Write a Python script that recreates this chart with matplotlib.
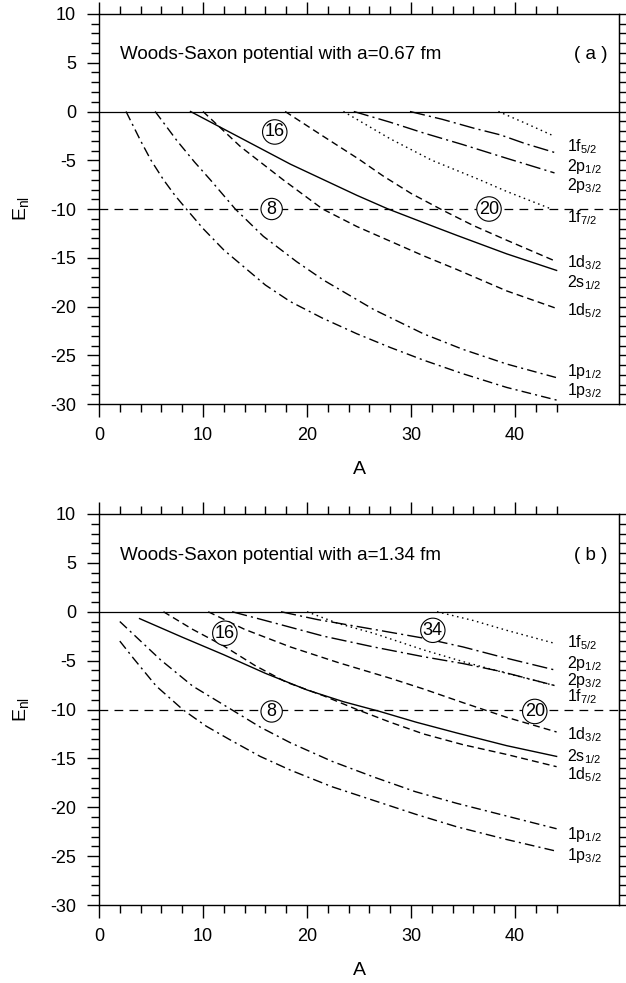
import matplotlib
matplotlib.use("Agg")
import matplotlib.pyplot as plt
from matplotlib.ticker import MultipleLocator, FixedLocator

plt.rcParams['font.family'] = ['Liberation Sans', 'DejaVu Sans']
plt.rcParams['mathtext.fontset'] = 'custom'
plt.rcParams['mathtext.rm'] = 'Liberation Sans'
plt.rcParams['mathtext.it'] = 'Liberation Sans'
plt.rcParams['mathtext.default'] = 'regular'
plt.rcParams['axes.unicode_minus'] = False

# ---------------- data: panel (a), a = 0.67 fm ----------------
a_1p32_A = [2.6, 4.0, 5.0, 6.2, 7.3, 8.4, 10.0, 12.0, 14.0, 16.0, 18.4, 21.5, 24.8, 28.0, 31.2, 35.0, 39.2, 44.0]
a_1p32_E = [0.0, -3.0, -5.0, -7.0, -8.6, -10.0, -12.0, -14.2, -16.0, -17.8, -19.5, -21.2, -22.8, -24.2, -25.5, -26.9, -28.3, -29.6]
a_1p12_A = [5.4, 7.5, 9.2, 10.7, 13.1, 15.8, 19.0, 21.6, 26.4, 31.2, 35.0, 39.2, 44.0]
a_1p12_E = [0.0, -3.0, -5.2, -7.0, -10.0, -12.8, -15.4, -17.3, -20.3, -22.8, -24.4, -25.9, -27.3]
a_1d52_A = [10.0, 13.6, 17.7, 21.5, 24.8, 28.0, 31.2, 34.4, 39.2, 44.0]
a_1d52_E = [0.0, -3.6, -7.0, -10.0, -11.8, -13.3, -14.8, -16.2, -18.4, -20.2]
a_2s12_A = [8.8, 12.0, 15.2, 18.4, 21.6, 24.8, 27.8, 31.2, 34.4, 39.2, 44.0]
a_2s12_E = [0.0, -1.8, -3.6, -5.4, -7.0, -8.6, -10.0, -11.4, -12.7, -14.6, -16.3]
a_1d32_A = [17.9, 21.5, 25.0, 27.3, 30.0, 33.0, 36.0, 39.2, 44.0]
a_1d32_E = [0.0, -2.5, -4.9, -6.6, -8.4, -10.1, -11.7, -13.2, -15.4]
a_1f72_A = [23.5, 28.0, 32.0, 36.6, 39.2, 43.5]
a_1f72_E = [0.0, -2.8, -5.0, -7.0, -8.2, -10.0]
a_2p32_A = [24.5, 28.0, 31.2, 35.0, 39.2, 43.8]
a_2p32_E = [0.0, -1.1, -2.2, -3.4, -4.8, -6.3]
a_2p12_A = [29.9, 33.0, 36.0, 38.6, 41.0, 43.8]
a_2p12_E = [0.0, -0.8, -1.7, -2.4, -3.3, -4.2]
a_1f52_A = [38.4, 41.0, 43.5]
a_1f52_E = [0.0, -1.2, -2.4]

# ---------------- data: panel (b), a = 1.34 fm ----------------
b_1p32_A = [2.0, 3.3, 5.5, 8.1, 10.3, 12.6, 15.5, 18.4, 22.4, 26.4, 30.4, 34.4, 39.2, 44.0]
b_1p32_E = [-3.0, -4.75, -7.6, -10.05, -11.7, -13.1, -14.8, -16.2, -17.9, -19.3, -20.7, -22.0, -23.3, -24.5]
b_1p12_A = [2.0, 4.0, 5.9, 9.0, 12.8, 15.5, 18.4, 22.4, 26.4, 30.4, 34.4, 39.2, 44.0]
b_1p12_E = [-1.0, -3.0, -4.9, -7.6, -10.05, -11.8, -13.4, -15.3, -16.9, -18.4, -19.6, -20.9, -22.2]
b_2s12_A = [3.9, 8.0, 12.0, 16.0, 20.0, 23.5, 27.0, 30.5, 34.4, 39.2, 44.0]
b_2s12_E = [-0.7, -2.6, -4.4, -6.3, -8.0, -9.2, -10.2, -11.3, -12.4, -13.7, -14.8]
b_1d52_A = [6.2, 9.0, 12.0, 15.0, 18.0, 21.6, 24.8, 28.0, 31.2, 35.0, 39.2, 44.0]
b_1d52_E = [0.0, -1.8, -3.5, -5.5, -7.2, -8.6, -10.0, -11.3, -12.5, -13.6, -14.6, -15.85]
b_1d32_A = [10.5, 14.0, 18.4, 23.0, 28.0, 31.2, 35.0, 39.2, 44.0]
b_1d32_E = [0.0, -1.8, -3.6, -5.2, -6.8, -7.9, -9.3, -10.8, -12.3]
b_2p32_A = [12.8, 16.0, 21.6, 26.4, 31.2, 35.0, 38.6, 44.0]
b_2p32_E = [0.0, -0.9, -2.5, -3.6, -4.6, -5.3, -6.1, -7.6]
b_2p12_A = [17.5, 21.0, 24.8, 28.0, 31.2, 35.0, 38.6, 44.0]
b_2p12_E = [0.0, -0.8, -1.5, -2.1, -2.7, -3.6, -4.6, -6.0]
b_1f72_A = [20.0, 23.0, 26.4, 31.2, 35.0, 39.2, 44.0]
b_1f72_E = [0.0, -1.2, -2.2, -3.9, -5.1, -6.3, -7.6]
b_1f52_A = [32.5, 36.0, 39.2, 43.7]
b_1f52_E = [0.0, -0.9, -1.9, -3.2]

# level labels (text, energy position)
level_names = ['1f$_{5/2}$', '2p$_{1/2}$', '2p$_{3/2}$', '1f$_{7/2}$', '1d$_{3/2}$',
               '2s$_{1/2}$', '1d$_{5/2}$', '1p$_{1/2}$', '1p$_{3/2}$']
a_label_E = [-3.6, -5.66, -7.54, -10.9, -15.5, -17.6, -20.4, -26.7, -28.6]
b_label_E = [-3.2, -5.25, -7.0, -8.7, -12.6, -14.8, -16.7, -22.8, -24.9]

# magic numbers (text, A, E)
a_magic = [('16', 16.9, -2.1), ('8', 16.6, -10.0), ('20', 37.5, -10.0)]
b_magic = [('16', 12.1, -2.2), ('34', 32.1, -1.9), ('8', 16.6, -10.2), ('20', 41.9, -10.2)]

titles = ['Woods-Saxon potential with a=0.67 fm', 'Woods-Saxon potential with a=1.34 fm']
tags = ['( a )', '( b )']

# ---------------- styles ----------------
ST_1p = (0, (7, 3, 1.5, 3))
ST_2p = (0, (11, 3, 1.5, 3))
ST_1d = (0, (5, 3))
ST_1f = (0, (1.1, 2.6))
ST_2s = '-'
LW = 1.0

fig = plt.figure(figsize=(6.26, 9.83), dpi=100)
ax_a = fig.add_axes([99/626, 1-404/983, 520/626, 390/983])
ax_b = fig.add_axes([99/626, 1-905/983, 520/626, 391/983])

panels = [
    (ax_a, [(a_1p32_A, a_1p32_E, ST_1p), (a_1p12_A, a_1p12_E, ST_1p),
            (a_1d52_A, a_1d52_E, ST_1d), (a_2s12_A, a_2s12_E, ST_2s),
            (a_1d32_A, a_1d32_E, ST_1d), (a_1f72_A, a_1f72_E, ST_1f),
            (a_2p32_A, a_2p32_E, ST_2p), (a_2p12_A, a_2p12_E, ST_2p),
            (a_1f52_A, a_1f52_E, ST_1f)], a_label_E, a_magic, titles[0], tags[0]),
    (ax_b, [(b_1p32_A, b_1p32_E, ST_1p), (b_1p12_A, b_1p12_E, ST_1p),
            (b_1d52_A, b_1d52_E, ST_1d), (b_2s12_A, b_2s12_E, ST_2s),
            (b_1d32_A, b_1d32_E, ST_1d), (b_1f72_A, b_1f72_E, ST_1f),
            (b_2p32_A, b_2p32_E, ST_2p), (b_2p12_A, b_2p12_E, ST_2p),
            (b_1f52_A, b_1f52_E, ST_1f)], b_label_E, b_magic, titles[1], tags[1]),
]

for ax, curves, labE, magic, title, tag in panels:
    ax.set_xlim(0, 50)
    ax.set_ylim(-30, 10)
    ax.axhline(0, color='black', lw=0.9, zorder=1)
    ax.axhline(-10, color='black', lw=0.9, ls=(0, (7, 5)), zorder=1)
    for A, E, st in curves:
        ax.plot(A, E, color='black', lw=LW, ls=st, zorder=2)
    for name, e in zip(level_names, labE):
        ax.text(45.0, e, name, fontsize=11.5, ha='left', va='center')
    for txt, x, y in magic:
        ax.text(x, y, txt, fontsize=13, ha='center', va='center', zorder=5,
                bbox=dict(boxstyle='circle,pad=0.12', fc='white', ec='black', lw=0.8))
    ax.text(2.0, 5.8, title, fontsize=13.5, ha='left', va='center')
    ax.text(47.3, 5.8, tag, fontsize=13.5, ha='center', va='center')

    ax.xaxis.set_major_locator(FixedLocator([0, 10, 20, 30, 40]))
    ax.xaxis.set_minor_locator(FixedLocator([2, 4, 6, 8, 12, 14, 16, 18, 22, 24, 26, 28,
                                             32, 34, 36, 38, 42, 44]))
    ax.yaxis.set_major_locator(MultipleLocator(5))
    ax.yaxis.set_minor_locator(MultipleLocator(1))
    ax.tick_params(axis='both', which='both', direction='out', top=True, right=False,
                   width=1.0, labelsize=13)
    ax.tick_params(axis='both', which='major', length=9, pad=7.5)
    ax.tick_params(axis='both', which='minor', length=5.5)
    sec = ax.secondary_yaxis('right')
    sec.yaxis.set_major_locator(MultipleLocator(1))
    sec.tick_params(axis='y', which='both', direction='out', length=5.5, width=1.0,
                    labelright=False)
    for s in ax.spines.values():
        s.set_linewidth(1.0)
    ax.set_xlabel('A', fontsize=14)
    ax.set_ylabel('E$_{nl}$', fontsize=14)
    ax.xaxis.set_label_coords(0.5, -0.145)
    ax.yaxis.set_label_coords(-0.131, 0.5)

fig.savefig('out.png', dpi=100)
